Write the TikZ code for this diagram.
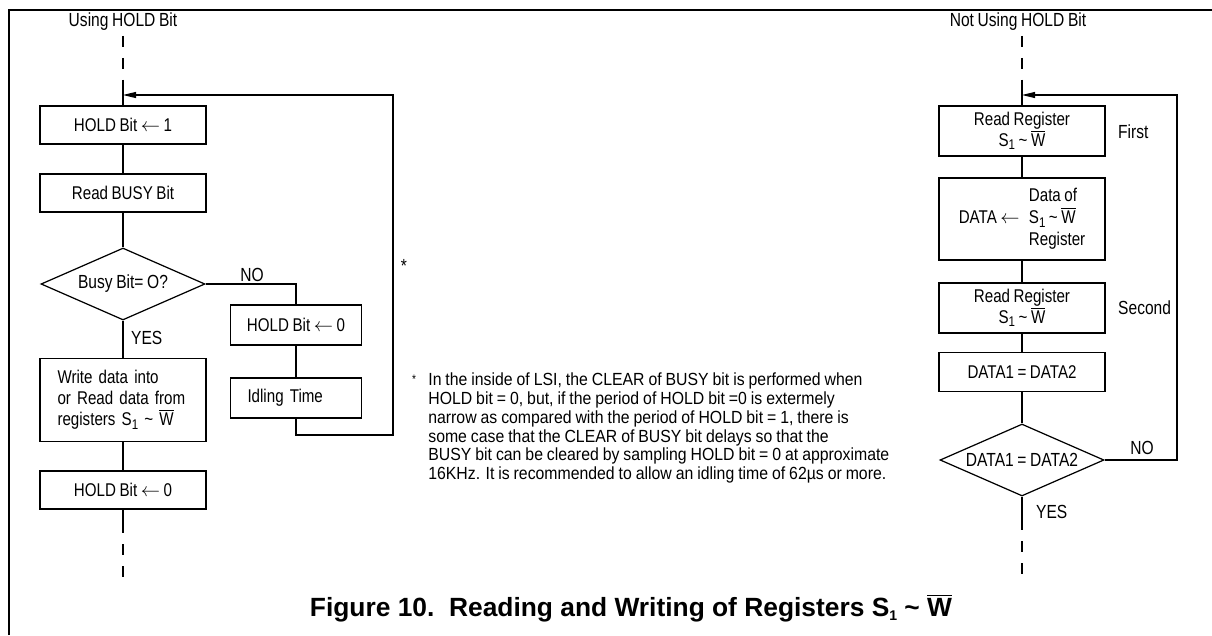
\documentclass[tikz,border=0pt]{standalone}
\usepackage{fontspec}
\setmainfont{Liberation Sans}[FakeStretch=0.82,WordSpace=0.85]
\newfontfamily\capfont{Liberation Sans}
\newfontfamily\notefont{Liberation Sans}[FakeStretch=0.9,WordSpace=0.9]
\usetikzlibrary{shapes.geometric,arrows.meta}
\newcommand{\Wbar}{\ensuremath{\overline{\mbox{W}}}}
\newcommand{\Sone}{S\raisebox{-0.35ex}{\footnotesize 1}}
\newcommand{\SW}{\Sone{} \textasciitilde{} \Wbar}

\begin{document}
\begin{tikzpicture}[x=0.02cm,y=-0.02cm,
  box/.style={draw,line width=0.7pt,minimum width=3.32cm,minimum height=0.76cm,inner sep=2pt,align=center,font=\fontsize{10.5}{12}\selectfont},
  decision/.style={draw,diamond,line width=0.7pt,minimum width=3.28cm,minimum height=1.44cm,inner sep=0pt},
  flow/.style={line width=0.7pt},
  dashline/.style={line width=0.7pt,dash pattern=on 0.22cm off 0.22cm},
  lab/.style={font=\fontsize{10.8}{12}\selectfont},
  loop/.style={line width=0.7pt,-{Triangle[length=2.6mm,width=1.2mm]}}]
  \useasboundingbox (0,0) rectangle (1212,635);
  \draw [line width=1.1pt] (9,635) -- (9,10) -- (1212,10);

  % using HOLD bit
  \node[lab] (t1) at (123,22) {Using HOLD Bit};
  \coordinate (s1) at (123,36);
  \coordinate (j1) at (123,80);
  \coordinate (r1) at (123,95);
  \node[box] (b1) at (123,125) {HOLD Bit $\leftarrow$ 1};
  \node[box] (b2) at (123,193) {Read BUSY Bit};
  \node[decision] (d1) at (123,284) {};
  \node[lab] (q1) at (d1) {Busy Bit= O?};
  \node[box,minimum width=2.62cm,minimum height=0.8cm] (h0) at (296,325) {HOLD Bit $\leftarrow$ 0};
  \node[box,minimum width=2.62cm,minimum height=0.8cm,text width=1.94cm,align=left] (idle) at (296,398) {Idling Time};
  \node[box,minimum height=1.66cm,text width=2.62cm,align=left] (wr) at (123,400) {Write data into\\or Read data from\\registers \SW};
  \node[box] (h0b) at (123,490) {HOLD Bit $\leftarrow$ 0};
  \coordinate (e1) at (123,533);
  \coordinate (f1) at (123,577);
  \coordinate (c1) at (393,435);
  \node[lab] (no1) at (252,275) {NO};
  \node[lab,anchor=west] (yes1) at (125,338) {YES};
  \node[lab] (star1) at (404,266) {*};

  \draw [dashline] (s1) -- (j1);
  \draw [flow] (j1) -- (b1);
  \draw [flow] (b1) -- (b2);
  \draw [flow] (b2) -- (d1);
  \draw [flow] (d1) -- (wr);
  \draw [flow] (wr) -- (h0b);
  \draw [flow] (h0b) -- (e1);
  \draw [dashline,dash phase=0.22cm] (e1) -- (f1);
  \draw [flow] (d1.east) -| (h0.north);
  \draw [flow] (h0) -- (idle);
  \draw [loop] (idle.south) |- (c1) |- (r1);

  % footnote
  \node[font=\fontsize{7}{8}\selectfont] (star2) at (414,379) {*};
  \node[font=\notefont\fontsize{10}{10.8}\selectfont,align=left,anchor=north west,inner sep=0pt] (note) at (428,372)
    {In the inside of LSI, the CLEAR of BUSY bit is performed when\\
     HOLD bit = 0, but, if the period of HOLD bit =0 is extermely\\
     narrow as compared with the period of HOLD bit = 1, there is\\
     some case that the CLEAR of BUSY bit delays so that the\\
     BUSY bit can be cleared by sampling HOLD bit = 0 at approximate\\
     16KHz. It is recommended to allow an idling time of 62µs or more.};

  % not using HOLD bit
  \node[lab] (t2) at (1018,22) {Not Using HOLD Bit};
  \coordinate (s2) at (1022,36);
  \coordinate (j2) at (1022,80);
  \coordinate (r2) at (1022,95);
  \node[box,minimum height=1cm] (rr1) at (1022,131) {Read Register\\\SW};
  \node[box,minimum height=1.64cm] (dat) at (1022,219)
    {DATA $\leftarrow$\enspace\begin{tabular}{@{}l@{}}Data of\\\SW\\Register\end{tabular}};
  \node[box,minimum height=1cm] (rr2) at (1022,308) {Read Register\\\SW};
  \node[box,minimum height=0.78cm] (eq) at (1022,372) {DATA1 = DATA2};
  \node[decision] (d2) at (1022,460) {};
  \node[lab] (q2) at (d2) {DATA1 = DATA2};
  \coordinate (e2) at (1022,530);
  \coordinate (f2) at (1022,577);
  \coordinate (c2) at (1177,95);
  \node[lab,anchor=west] (first) at (1112,132) {First};
  \node[lab,anchor=west] (second) at (1112,308) {Second};
  \node[lab] (no2) at (1142,448) {NO};
  \node[lab,anchor=west] (yes2) at (1030,512) {YES};

  \draw [dashline] (s2) -- (j2);
  \draw [flow] (j2) -- (rr1);
  \draw [flow] (rr1) -- (dat);
  \draw [flow] (dat) -- (rr2);
  \draw [flow] (rr2) -- (eq);
  \draw [flow] (eq) -- (d2);
  \draw [flow] (d2) -- (e2);
  \draw [dashline,dash phase=0.22cm] (e2) -- (f2);
  \draw [loop] (d2.east) -| (c2) -- (r2);

  \node[font=\capfont\bfseries\fontsize{15}{17}\selectfont] (cap) at (631,608)
    {Figure 10.\ \ Reading and Writing of Registers \Sone{} \textasciitilde{} \Wbar};
\end{tikzpicture}
\end{document}
